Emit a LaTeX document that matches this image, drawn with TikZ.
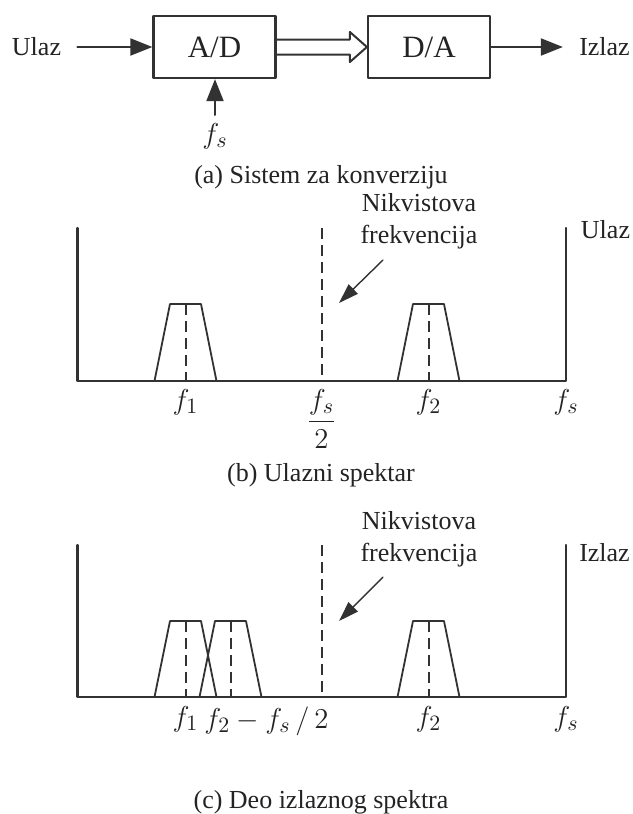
\documentclass[tikz,border=0pt]{standalone}
\usepackage{fontspec}
\setmainfont{Liberation Serif}
\usetikzlibrary{arrows.meta,positioning,calc}
\definecolor{lineGray}{RGB}{50,50,50}
\definecolor{textGray}{RGB}{35,35,35}

\begin{document}
\begin{tikzpicture}[x=0.5pt, y=-0.5pt, line cap=round, line join=round,
        txt/.style={text=textGray, font=\fontsize{13}{16}\selectfont, inner sep=0pt},
        blok/.style={draw=lineGray, line width=1.1pt, minimum width=61pt, minimum height=31pt, inner sep=0pt, text=textGray, font=\fontsize{15.5}{18}\selectfont},
        lbl/.style={text=textGray, font=\fontsize{15}{18}\selectfont, inner sep=0pt, anchor=north},
        arr/.style={draw=lineGray, line width=1pt, -{Triangle[length=11pt, width=8.5pt]}},
        nyq/.style={draw=lineGray, line width=0.7pt, -{Triangle[length=10pt, width=6.5pt]}},
        osa/.style={draw=lineGray, line width=1.1pt},
        spek/.style={draw=lineGray, line width=0.9pt},
        crt/.style={draw=lineGray, line width=1pt, line cap=butt, dash pattern=on 5.5pt off 3pt}]
        \useasboundingbox (0,0) rectangle (632,814);
        % (a) sistem
        \node[txt] (ulaz) at (36.5,47) {Ulaz};
        \node[blok] (ad) at (214.5,47) {A/D};
        \node[blok] (da) at (429,47) {D/A};
        \node[txt] (izlaz) at (604.5,47) {Izlaz};
        \node[lbl] (fsa) at (215,123) {$f_s$};
        \draw[arr, shorten <=8pt] (ulaz.east) -- (ad.west);
        \draw[arr, shorten >=8pt] (da.east) -- (izlaz.west);
        \draw[arr, shorten <=4pt] (fsa.north) -- (fsa.north |- ad.south);
        \draw[lineGray, line width=1pt] ($(ad.east)+(0,-7.5)$) -- ($(da.west)+(-17,-7.5)$) -- ($(da.west)+(-17,-15)$) -- (da.west) -- ($(da.west)+(-17,15)$) -- ($(da.west)+(-17,7.5)$) -- ($(ad.east)+(0,7.5)$);
        \node[txt] (capa) at (321,177) {(a) Sistem za konverziju};
        % (b) ulazni spektar
        \draw[osa] (77.5,228) -- (77.5,381) -- (566,381) -- (566,228);
        \draw[crt] (321.5,228) -- (321.5,381);
        \draw[spek] (154.5,381) -- (170,304) -- (201,304) -- (216.5,381);
        \draw[crt] (185.5,304) -- (185.5,381);
        \draw[spek] (397.5,381) -- (413,304) -- (444,304) -- (459.5,381);
        \draw[crt] (428.5,304) -- (428.5,381);
        \node[lbl] (f1b) at (185.5,389) {$f_1$};
        \node[lbl] (fsb) at (321.5,389) {$\displaystyle\frac{f_s}{2}$};
        \node[lbl] (f2b) at (428.5,389) {$f_2$};
        \node[lbl] (fskb) at (566,389) {$f_s$};
        \node[txt] (ulazb) at (605.5,230) {Ulaz};
        \node[txt, align=center] (nyqb) at (419,221) {Nikvistova\\frekvencija};
        \coordinate (nyqbs) at (383,260);
        \coordinate (nyqbt) at (339,303);
        \draw[nyq] (nyqbs) -- (nyqbt);
        \node[txt] (capb) at (321,475) {(b) Ulazni spektar};
        % (c) izlazni spektar
        \draw[osa] (77.5,545) -- (77.5,697) -- (566,697) -- (566,545);
        \draw[crt] (321.5,545) -- (321.5,697);
        \draw[spek] (154.5,697) -- (170,621) -- (201,621) -- (216.5,697);
        \draw[crt] (185.5,621) -- (185.5,697);
        \draw[spek] (199.5,697) -- (215,621) -- (246,621) -- (261.5,697);
        \draw[crt] (230.5,621) -- (230.5,697);
        \draw[spek] (397.5,697) -- (413,621) -- (444,621) -- (459.5,697);
        \draw[crt] (428.5,621) -- (428.5,697);
        \node[lbl] (f1c) at (185.5,706) {$f_1$};
        \node[lbl, anchor=north west] (razc) at (204,706) {$f_2 - f_s\,/\,2$};
        \node[lbl] (f2c) at (428.5,706) {$f_2$};
        \node[lbl] (fskc) at (566,706) {$f_s$};
        \node[txt] (izlazc) at (604.5,553) {Izlaz};
        \node[txt, align=center] (nyqc) at (419,539) {Nikvistova\\frekvencija};
        \coordinate (nyqcs) at (383,577);
        \coordinate (nyqct) at (339,621);
        \draw[nyq] (nyqcs) -- (nyqct);
        \node[txt] (capc) at (321,802) {(c) Deo izlaznog spektra};
    \end{tikzpicture}
\end{document}
